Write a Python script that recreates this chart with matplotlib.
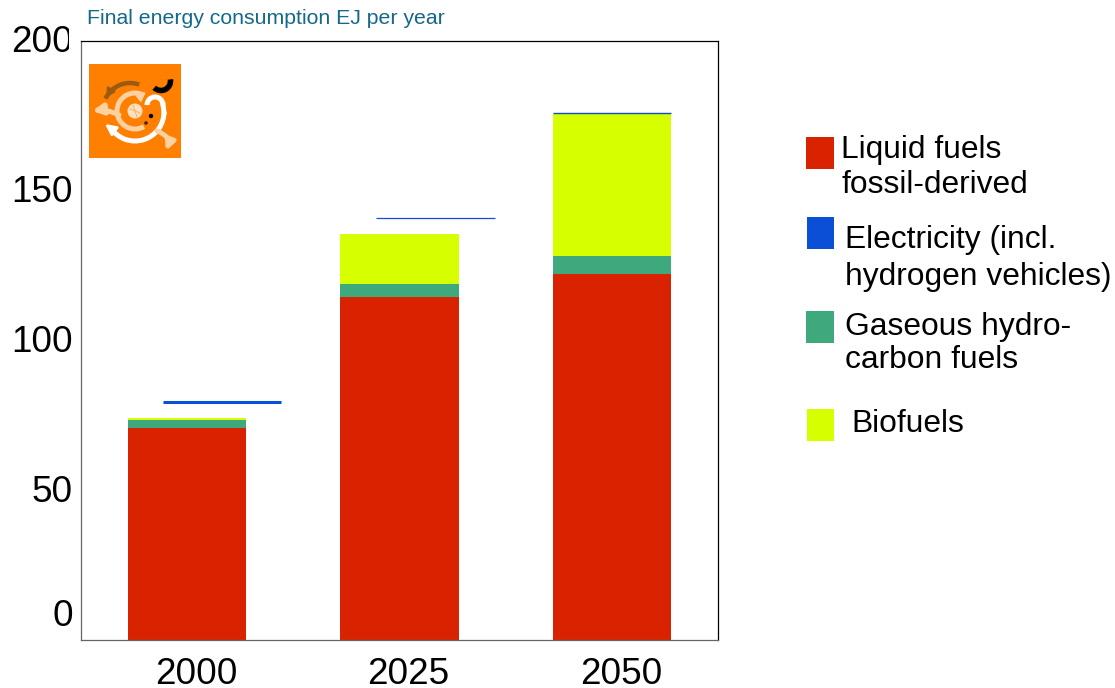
"""Final energy consumption stacked bars, with a small scenario icon and a hand-placed legend."""

import matplotlib

matplotlib.use("Agg")
import matplotlib.pyplot as plt
import numpy as np
from matplotlib.patches import Arc, Circle, FancyArrowPatch, Rectangle
from matplotlib.transforms import ScaledTranslation

years = ["2000", "2025", "2050"]
liquid = [70.8, 114.5, 122.2]
gaseous = [2.7, 4.4, 6.0]
biofuels = [0.6, 16.7, 47.5]
electricity = [79.3, 140.8, 176.0]
electricity_shift = [0.165, 0.17, 0.0]

y_ticks = [0, 50, 100, 150, 200]
legend_lines = [
    ["Liquid fuels", "fossil-derived"],
    ["Electricity (incl.", "hydrogen vehicles)"],
    ["Gaseous hydro-", "carbon fuels"],
    ["Biofuels"],
]

RED = "#d92300"
BLUE = "#0a4fd6"
GREEN = "#3ea97c"
YELLOW = "#d6ff00"
ORANGE = "#ff7f00"
PALE = "#ffd0a0"
BROWN = "#9a5a10"

W, H = 1115, 688
plt.rcParams["font.family"] = ["Liberation Sans", "DejaVu Sans"]


def px_box(x0, y0, x1, y1):
    # pixel box, y counted from the top, as figure fractions
    return [x0 / W, 1 - y1 / H, (x1 - x0) / W, (y1 - y0) / H]


def nudge(label, dx, dy):
    # move a tick label by screen pixels (dy up)
    label.set_transform(label.get_transform() + ScaledTranslation(dx / 100, dy / 100, fig.dpi_scale_trans))


fig = plt.figure(figsize=(W / 100, H / 100), dpi=100)
ax = fig.add_axes(px_box(81, 41, 718, 640))

x = np.arange(len(years))
bar_width = 0.557
liquid_a = np.array(liquid)
gas_a = np.array(gaseous)
ax.bar(x, liquid, bar_width, color=RED)
ax.bar(x, gaseous, bar_width, bottom=liquid_a, color=GREEN)
ax.bar(x, biofuels, bar_width, bottom=liquid_a + gas_a, color=YELLOW)

# electricity is only a thin marker line, thinner as it goes up
line_widths = [2.2, 0.9, 1.0]
for i, val in enumerate(electricity):
    left = x[i] - bar_width / 2 + electricity_shift[i]
    ax.plot([left, left + bar_width], [val, val], color=BLUE, lw=line_widths[i], solid_capstyle="butt")

ax.set_xlim(-0.5, 2.5)
ax.set_ylim(0, 200)
ax.set_xticks(x, years)
ax.set_yticks(y_ticks)
ax.tick_params(axis="both", length=0, labelsize=26.6)
ax.tick_params(axis="x", pad=12)
ax.tick_params(axis="y", pad=6)
for name, spine in ax.spines.items():
    spine.set_linewidth(0.9)
    spine.set_color("#666666" if name in ("left", "bottom") else "black")

for label in ax.get_xticklabels():
    nudge(label, 9, 0)

# the 0 label sits above the baseline
ylabels = ax.get_yticklabels()
for label in ylabels:
    nudge(label, 0, 2)
nudge(ylabels[0], 0, 26)

# the reference cuts the last digit of 200: the strip sits on its own top axes
strip = fig.add_axes(px_box(69, 24, 78, 39), zorder=20)
strip.axis("off")
strip.add_patch(Rectangle((0, 0), 1, 1, color="white", lw=0))
strip2 = fig.add_axes(px_box(69, 39, 78, 58), zorder=20)
strip2.axis("off")
strip2.add_patch(Rectangle((0, 0), 1, 1, color="white", lw=0))

fig.text(87 / W, 1 - 18 / H, "Final energy consumption EJ per year", color="#15688a", fontsize=15.3, va="center")

# legend, placed by hand
swatches = [(806, 137, 834, 169), (807, 217, 834, 249), (806, 311, 834, 343), (807, 409, 834, 441)]
colors = [RED, BLUE, GREEN, YELLOW]
text_x = [841, 845, 845, 851]
baselines = [[158, 193], [248, 285], [335, 368], [432]]
for box, col, tx, lines, ys in zip(swatches, colors, text_x, legend_lines, baselines):
    x0, y0, x1, y1 = box
    fig.add_artist(Rectangle((x0 / W, 1 - y1 / H), (x1 - x0) / W, (y1 - y0) / H, color=col, lw=0, transform=fig.transFigure))
    for line, base in zip(lines, ys):
        fig.text(tx / W, 1 - base / H, line, fontsize=22.9, va="baseline")

# small orange icon, drawn in its own pixel coordinates
icon = fig.add_axes(px_box(89, 64, 181, 158))
icon.set_xlim(89, 181)
icon.set_ylim(158, 64)
icon.axis("off")
icon.add_patch(Rectangle((89, 64), 92, 94, color=ORANGE, lw=0))


def swirl(start, end, rad, color, lw, head=11):
    icon.add_patch(
        FancyArrowPatch(
            start, end, connectionstyle=f"arc3,rad={rad}", arrowstyle="-|>",
            mutation_scale=head, color=color, lw=lw, shrinkA=0, shrinkB=0,
        )
    )


def ring(cx, cy, r, t1, t2, color, lw):
    icon.add_patch(Arc((cx, cy), 2 * r, 2 * r, theta1=t1, theta2=t2, color=color, lw=lw))


ring(135, 112, 29, 0, 145, "white", 3.6)
ring(155, 105, 8, 180, 360, "white", 3.6)
icon.plot([163, 164], [105, 112], color="white", lw=3.6)
swirl((113, 130), (105, 124), 0, "white", 2.0, head=16)

ring(135, 111, 18, 60, 300, PALE, 3.6)
swirl((141, 96), (146, 92), 0, PALE, 1.5, head=13)

ring(130, 110, 27, 205, 290, BROWN, 3.2)
swirl((109, 93), (106, 98), 0, BROWN, 1.5, head=14)

swirl((119, 115), (92, 111), 0.15, PALE, 3.6, head=15)
swirl((157, 131), (166, 151), -0.5, PALE, 3.4, head=14)
ring(161, 81, 9.5, -10, 135, "black", 4)

icon.add_patch(Circle((135, 111), 7.5, color="#ffe0c0", lw=0))
icon.plot([130, 140], [109, 113], color="#ffb060", lw=0.7)
icon.plot([133, 137], [105, 117], color="#ffb060", lw=0.7)
icon.add_patch(Circle((151, 116), 2.2, color="black", lw=0))
icon.add_patch(Circle((146, 123), 1.8, color="#4a2500", lw=0))

fig.savefig("out.png", dpi=100)
plt.close(fig)
